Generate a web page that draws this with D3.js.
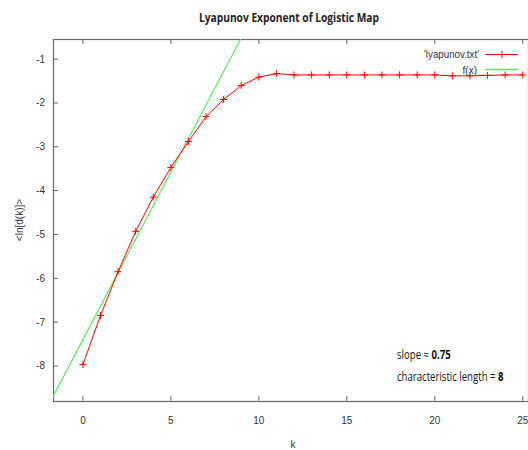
<!DOCTYPE html>
<html>
<head>
<meta charset="utf-8">
<script src="https://cdn.jsdelivr.net/npm/d3@7"></script>
<style>
  body { margin: 0; background: #fff; }
  svg { display: block; }
</style>
</head>
<body>
<svg id="chart" width="528" height="450"></svg>
<script>
// data
const kValues = d3.range(0, 26);
const lyapValues = [-7.97, -6.85, -5.85, -4.93, -4.15, -3.47, -2.88, -2.31, -1.92, -1.60,
  -1.41, -1.33, -1.36, -1.36, -1.36, -1.36, -1.36, -1.36, -1.36, -1.36,
  -1.36, -1.38, -1.38, -1.37, -1.36, -1.36];
const fitSlope = 0.765;
const fitIntercept = -7.4;
const xTicks = [0, 5, 10, 15, 20, 25];
const yTicks = [-1, -2, -3, -4, -5, -6, -7, -8];

const svg = d3.select("#chart");
const plotLeft = 53, plotRight = 528, plotTop = 39, plotBottom = 401;

const x = d3.scaleLinear().domain([-1.7, 25.3]).range([plotLeft, plotRight]);
const y = d3.scaleLinear().domain([-8.8, -0.54]).range([plotBottom, plotTop]);

const frameColor = "#666";
const green = "#5ee85e";
const tickFont = "'Liberation Sans', Arial, sans-serif";

// title
svg.append("text")
  .attr("x", 289).attr("y", 22)
  .attr("text-anchor", "middle")
  .attr("font-family", "'Open Sans', sans-serif")
  .attr("font-weight", "bold")
  .attr("font-size", 13)
  .attr("textLength", 180)
  .attr("lengthAdjust", "spacingAndGlyphs")
  .attr("fill", "#222")
  .text("Lyapunov Exponent of Logistic Map");

// clip for the lines
svg.append("clipPath").attr("id", "plot")
  .append("rect")
  .attr("x", plotLeft).attr("y", plotTop)
  .attr("width", plotRight - plotLeft).attr("height", plotBottom - plotTop);

// ticks (gnuplot style, inside, mirrored)
const ticks = svg.append("g").attr("stroke", frameColor).attr("stroke-width", 1);
xTicks.forEach(t => {
  ticks.append("line").attr("x1", x(t)).attr("x2", x(t)).attr("y1", plotBottom).attr("y2", plotBottom - 5);
  ticks.append("line").attr("x1", x(t)).attr("x2", x(t)).attr("y1", plotTop).attr("y2", plotTop + 5);
});
yTicks.forEach(t => {
  ticks.append("line").attr("x1", plotLeft).attr("x2", plotLeft + 5).attr("y1", y(t)).attr("y2", y(t));
});

// frame
svg.append("rect")
  .attr("x", plotLeft + 0.5).attr("y", plotTop + 0.5)
  .attr("width", plotRight - plotLeft).attr("height", plotBottom - plotTop)
  .attr("fill", "none").attr("stroke", frameColor).attr("stroke-width", 1.2);

// tick labels
svg.append("g").selectAll("text").data(xTicks).join("text")
  .attr("x", d => x(d)).attr("y", 424)
  .attr("text-anchor", "middle")
  .attr("font-family", tickFont).attr("font-size", 10)
  .attr("fill", "#333")
  .text(d => d);

svg.append("g").selectAll("text").data(yTicks).join("text")
  .attr("x", 45).attr("y", d => y(d) + 3.5)
  .attr("text-anchor", "end")
  .attr("font-family", tickFont).attr("font-size", 10)
  .attr("fill", "#333")
  .text(d => d);

// axis labels
svg.append("text")
  .attr("x", 293).attr("y", 448)
  .attr("text-anchor", "middle")
  .attr("font-family", tickFont).attr("font-size", 10)
  .attr("fill", "#333")
  .text("k");

svg.append("text")
  .attr("transform", "translate(23,220) rotate(-90)")
  .attr("text-anchor", "middle")
  .attr("font-family", tickFont).attr("font-size", 10)
  .attr("fill", "#333")
  .text("<ln[d(k)]>");

const plot = svg.append("g").attr("clip-path", "url(#plot)");

// fitted line f(x)
const fitLine = d3.line().x(d => x(d)).y(d => y(fitSlope * d + fitIntercept));
plot.append("path")
  .attr("d", fitLine(x.domain()))
  .attr("fill", "none").attr("stroke", green).attr("stroke-width", 1.2);

// data line
const pts = kValues.map((k, i) => [k, lyapValues[i]]);
plot.append("path")
  .attr("d", d3.line().x(d => x(d[0])).y(d => y(d[1]))(pts))
  .attr("fill", "none").attr("stroke", "#ff0000").attr("stroke-width", 1);

plot.append("g").selectAll("path").data(pts).join("path")
  .attr("transform", d => `translate(${x(d[0])},${y(d[1])})`)
  .attr("d", "M-3.5,0H3.5M0,-3.5V3.5")
  .attr("stroke", "#ff0000").attr("stroke-width", 1);

// legend
const legend = svg.append("g").attr("font-family", tickFont).attr("font-size", 10).attr("fill", "#333");
legend.append("text").attr("x", 479).attr("y", 58).attr("text-anchor", "end")
  .attr("textLength", 55).attr("lengthAdjust", "spacingAndGlyphs")
  .text("'lyapunov.txt'");
legend.append("line").attr("x1", 485).attr("x2", 518).attr("y1", 54.5).attr("y2", 54.5)
  .attr("stroke", "#ff0000");
legend.append("path").attr("d", "M502,51V58").attr("stroke", "#ff0000");
legend.append("text").attr("x", 477).attr("y", 74).attr("text-anchor", "end").text("f(x)");
legend.append("line").attr("x1", 485).attr("x2", 518).attr("y1", 69.5).attr("y2", 69.5)
  .attr("stroke", green).attr("stroke-width", 1.5);

// annotation (condensed horizontally to mimic the narrow original font)
const note = svg.append("g")
  .attr("transform", "translate(397,0) scale(0.8,1)")
  .attr("font-family", "'Open Sans', sans-serif").attr("font-size", 12).attr("fill", "#111");
const t1 = note.append("text").attr("x", 0).attr("y", 359);
t1.append("tspan").text("slope ≈ ");
t1.append("tspan").attr("font-weight", "bold").text("0.75");
const t2 = note.append("text").attr("x", 0).attr("y", 381);
t2.append("tspan").text("characteristic length = ");
t2.append("tspan").attr("font-weight", "bold").text("8");
</script>
</body>
</html>
